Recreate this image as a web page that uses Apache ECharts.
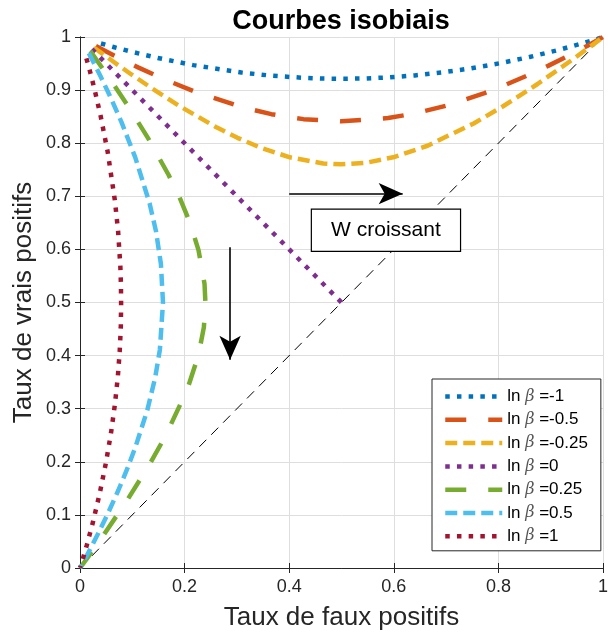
<!DOCTYPE html>
<html><head><meta charset="utf-8">
<script src="https://cdn.jsdelivr.net/npm/echarts@6/dist/echarts.min.js"></script>
<style>html,body{margin:0;padding:0;background:#fff}#c{width:611px;height:636px}</style>
</head><body><div id="c"></div>
<script>
// ---- data ----
const lnBeta = ['-1', '-0.5', '-0.25', '0', '0.25', '0.5', '1'];
const xTicks = [0, 0.2, 0.4, 0.6, 0.8, 1];
const yTicks = [0, 0.1, 0.2, 0.3, 0.4, 0.5, 0.6, 0.7, 0.8, 0.9, 1];

const fpr_m1 = [0.0401,0.0640,0.0990,0.1485,0.2167,0.3085,0.3653,0.4305,0.4668,0.5057,0.5474,0.5922,0.6402,0.6915,0.7457,0.8023,0.8596,0.9142,0.9599,0.9893,0.9993,1];
const tpr_m1 = [0.9878,0.9811,0.9721,0.9606,0.9470,0.9332,0.9272,0.9229,0.9217,0.9214,0.9220,0.9241,0.9277,0.9332,0.9407,0.9505,0.9623,0.9754,0.9878,0.9965,0.9998,1];

const fpr_m05 = [0.0304,0.0484,0.0744,0.1110,0.1607,0.2266,0.3130,0.3658,0.4273,0.5000,0.5890,0.6422,0.7031,0.7734,0.8121,0.8531,0.8950,0.9353,0.9696,0.9918,1];
const tpr_m05 = [0.9832,0.9737,0.9605,0.9428,0.9205,0.8944,0.8670,0.8547,0.8453,0.8413,0.8473,0.8564,0.8714,0.8944,0.9092,0.9265,0.9456,0.9654,0.9832,0.9953,1];

const fpr_m025 = [0.0264,0.0419,0.0641,0.0950,0.1366,0.1909,0.2599,0.3011,0.3477,0.4013,0.4651,0.5,0.5464,0.5987,0.6645,0.7527,0.8091,0.8749,0.9442,0.9783,0.9929,1];
const tpr_m025 = [0.9803,0.9692,0.9533,0.9318,0.9039,0.8696,0.8305,0.8101,0.7905,0.7734,0.7619,0.7602,0.7631,0.7734,0.7952,0.8372,0.8696,0.9115,0.9592,0.9838,0.9946,1];

const fpr_0 = [0.0228,0.0668,0.1587,0.3085,0.5];
const tpr_0 = [0.9772,0.9332,0.8413,0.6915,0.5];

const fpr_p025 = [0.0197,0.0308,0.0467,0.0682,0.0961,0.1304,0.1695,0.1899,0.2095,0.2266,0.2381,0.2398,0.2369,0.2266,0.2048,0.1628,0.1304,0.0885,0.0408,0.0162,0.0054,0];
const tpr_p025 = [0.9736,0.9581,0.9359,0.9050,0.8634,0.8091,0.7401,0.6989,0.6523,0.5987,0.5349,0.5,0.4536,0.4013,0.3355,0.2473,0.1909,0.1251,0.0558,0.0217,0.0071,0];

const fpr_p05 = [0.0168,0.0263,0.0395,0.0572,0.0795,0.1056,0.1330,0.1453,0.1547,0.1587,0.1527,0.1436,0.1286,0.1056,0.0908,0.0735,0.0544,0.0346,0.0168,0.0047,0];
const tpr_p05 = [0.9696,0.9516,0.9256,0.8890,0.8393,0.7734,0.6870,0.6342,0.5727,0.5000,0.4110,0.3578,0.2969,0.2266,0.1879,0.1469,0.1050,0.0647,0.0304,0.0082,0];

const fpr_p1 = [0.0122,0.0189,0.0279,0.0394,0.0530,0.0668,0.0728,0.0771,0.0783,0.0786,0.0780,0.0759,0.0723,0.0668,0.0593,0.0495,0.0377,0.0246,0.0122,0.0035,0.0002,0];
const tpr_p1 = [0.9599,0.9360,0.9010,0.8515,0.7833,0.6915,0.6347,0.5695,0.5332,0.4943,0.4526,0.4078,0.3598,0.3085,0.2543,0.1977,0.1404,0.0858,0.0401,0.0107,0.0007,0];

const diagX = [0, 1];
const diagY = [0, 1];

// ---- build ----
const curvesX = [fpr_m1, fpr_m05, fpr_m025, fpr_0, fpr_p025, fpr_p05, fpr_p1];
const curvesY = [tpr_m1, tpr_m05, tpr_m025, tpr_0, tpr_p025, tpr_p05, tpr_p1];
const colors = ['#0072BD', '#D95319', '#EDB120', '#7E2F8E', '#77AC30', '#4DBEEE', '#A2142F'];
const DOT = [4.5, 7.2], LONG = [21, 22], SHORT = [12, 6];
const dashes = [DOT, LONG, SHORT, DOT, LONG, SHORT, DOT];
const pair = (xs, ys) => xs.map((x, i) => [x, ys[i]]);
const names = lnBeta.map(v => 'ln β =' + v);
const FONT = '"Liberation Sans", Arial, Helvetica, sans-serif';
const TXT = '#262626';

const series = [{
  type: 'line', name: 'diag', data: pair(diagX, diagY), symbol: 'none', silent: true,
  lineStyle: { color: '#000', width: 1, type: [10, 7] }, z: 1
}];
names.forEach((n, i) => series.push({
  type: 'line', name: n, data: pair(curvesX[i], curvesY[i]), symbol: 'none', showSymbol: false,
  color: colors[i],
  lineStyle: { color: colors[i], width: 4.5, type: dashes[i], cap: 'butt', join: 'round' }, z: 2 + i
}));
series.push({
  type: 'line', name: 'annot', data: [], symbol: 'none', silent: true, z: 20,
  markLine: {
    silent: true, symbol: ['none', 'arrow'], symbolSize: [16, 24],
    label: { show: false },
    lineStyle: { color: '#000', width: 1.6, type: 'solid' },
    data: [
      [{ coord: [0.40, 0.705] }, { coord: [0.617, 0.705] }],
      [{ coord: [0.287, 0.604] }, { coord: [0.287, 0.392] }]
    ]
  },
  markPoint: {
    silent: true, symbol: 'rect', symbolSize: 1,
    itemStyle: { color: 'rgba(0,0,0,0)' },
    label: {
      show: true, position: 'inside', color: '#000', fontSize: 21, fontFamily: FONT, formatter: 'W croissant',
      backgroundColor: '#fff', borderColor: '#000', borderWidth: 1.2, padding: 0,
      width: 148, height: 41, lineHeight: 41, align: 'center', verticalAlign: 'middle'
    },
    data: [{ coord: [0.585, 0.636] }]
  }
});

const axisCommon = {
  type: 'value', min: 0, max: 1,
  axisLine: { show: true, lineStyle: { color: TXT, width: 1 } },
  axisTick: { show: true, inside: true, length: 5, lineStyle: { color: TXT } },
};

const chart = echarts.init(document.getElementById('c'), null, { renderer: 'canvas' });
chart.setOption({
  animation: false,
  backgroundColor: '#fff',
  title: {
    text: 'Courbes isobiais', left: 336, top: 3, textAlign: 'center',
    textStyle: { fontFamily: FONT, fontSize: 27, fontWeight: 'bold', color: '#000' }
  },
  grid: { left: 80, right: 1, top: 37, bottom: 68, containLabel: false },
  legend: {
    data: names, orient: 'vertical', left: 432, top: 379,
    padding: [9, 13, 6, 11], itemWidth: 57, itemHeight: 14, itemGap: 6.3,
    backgroundColor: '#fff', borderColor: TXT, borderWidth: 1, borderRadius: 0,
    selectedMode: false,
    itemStyle: { color: 'rgba(0,0,0,0)', borderWidth: 0, borderColor: 'rgba(0,0,0,0)' },
    lineStyle: { width: 4.5, cap: 'butt' },
    formatter: n => '{n|ln }{b|β}{n| =' + n.split('=')[1] + '}',
    textStyle: {
      fontFamily: FONT, fontSize: 17, color: '#000',
      rich: {
        n: { fontFamily: FONT, fontSize: 17, color: '#000', lineHeight: 18 },
        b: { fontFamily: '"DejaVu Serif", "Liberation Serif", serif', fontStyle: 'italic', fontSize: 16, color: '#555', lineHeight: 18 }
      }
    }
  },
  xAxis: [
    Object.assign({}, axisCommon, {
      position: 'bottom', interval: 0.2,
      name: 'Taux de faux positifs', nameLocation: 'middle', nameGap: 37, nameMoveOverlap: false,
      nameTextStyle: { fontFamily: FONT, fontSize: 26, color: TXT },
      axisLabel: { show: true, margin: 10, fontFamily: FONT, fontSize: 18, color: TXT, showMinLabel: true, showMaxLabel: true,
        formatter: v => String(Math.round(v * 10) / 10) },
      splitLine: { show: true, lineStyle: { color: '#dedede', width: 1 } }
    }),
    Object.assign({}, axisCommon, {
      position: 'top', interval: 0.2, axisLabel: { show: false }, splitLine: { show: false }
    })
  ],
  yAxis: [
    Object.assign({}, axisCommon, {
      position: 'left', interval: 0.1,
      name: 'Taux de vrais positifs', nameLocation: 'middle', nameGap: 43, nameMoveOverlap: false,
      nameTextStyle: { fontFamily: FONT, fontSize: 26, color: TXT },
      axisLabel: { show: true, margin: 9, fontFamily: FONT, fontSize: 18, color: TXT, showMinLabel: true, showMaxLabel: true,
        formatter: v => String(Math.round(v * 10) / 10) },
      splitLine: { show: true, lineStyle: { color: '#dedede', width: 1 } }
    }),
    Object.assign({}, axisCommon, {
      position: 'right', interval: 0.1, axisLabel: { show: false }, splitLine: { show: false }
    })
  ],
  series: series
});
</script>
</body></html>
